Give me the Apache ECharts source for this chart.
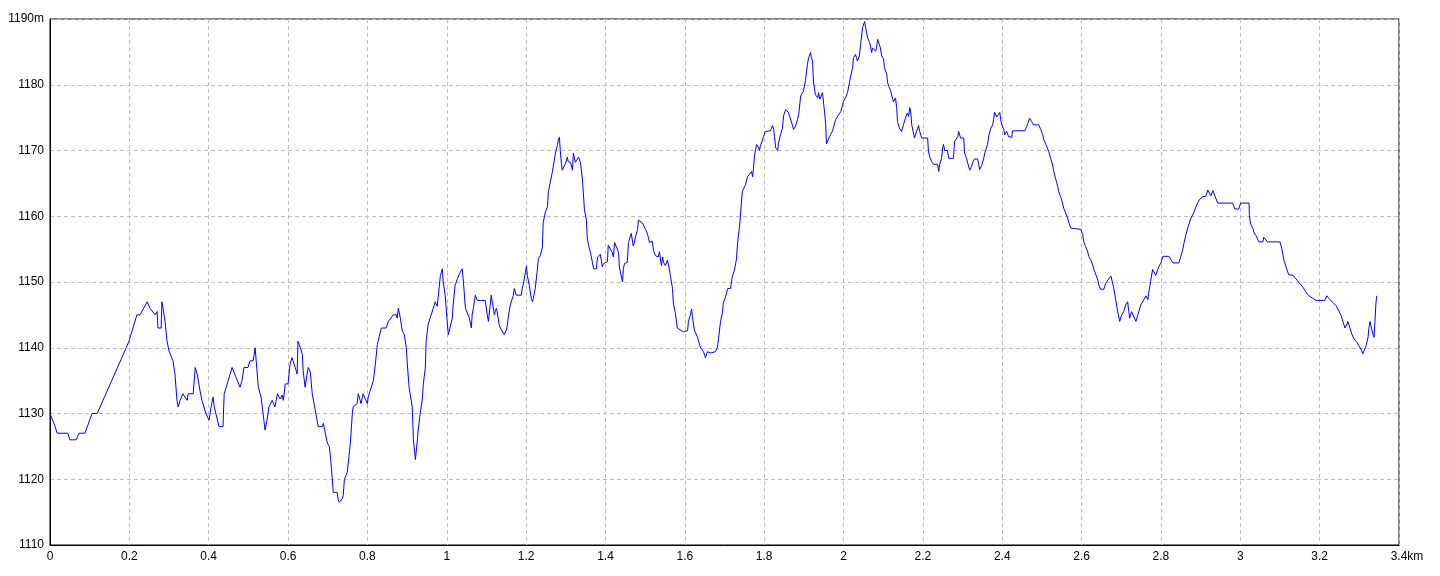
<!DOCTYPE html>
<html>
<head>
<meta charset="utf-8">
<style>html,body{margin:0;padding:0;background:#fff;}#chart{width:1440px;height:576px;}</style>
<script src="https://cdn.jsdelivr.net/npm/echarts@6/dist/echarts.min.js"></script>
</head>
<body>
<div id="chart"></div>
<script>
// distance along route, metres
const distM = [0,5,13,18,45,50,66,73,88,106,119,192,199,219,227,245,252,265,270,272,280,282,285,290,295,300,310,315,320,323,328,333,335,340,346,348,361,366,371,378,383,393,401,406,411,414,419,426,436,439,449,459,462,472,479,484,489,499,504,512,517,522,525,532,537,542,547,552,560,567,573,580,585,588,593,600,605,610,613,618,623,625,631,636,638,643,648,651,656,661,666,673,676,686,689,694,699,704,709,714,724,726,729,736,739,742,749,752,757,762,764,769,774,777,779,784,789,794,800,802,807,815,820,825,827,832,835,847,853,858,865,873,875,878,883,888,893,898,900,905,913,916,921,926,928,933,938,941,946,948,953,958,966,971,976,979,984,989,991,996,1001,1004,1009,1014,1016,1021,1027,1034,1039,1042,1047,1052,1057,1062,1064,1067,1072,1077,1079,1085,1090,1097,1102,1105,1110,1112,1115,1120,1122,1125,1127,1132,1135,1140,1145,1148,1150,1153,1155,1160,1163,1168,1170,1175,1188,1190,1193,1198,1201,1203,1206,1208,1213,1216,1218,1223,1228,1231,1236,1241,1243,1248,1254,1256,1261,1266,1269,1274,1279,1281,1284,1286,1289,1291,1294,1299,1304,1306,1312,1317,1319,1324,1329,1332,1337,1342,1344,1347,1352,1354,1357,1359,1362,1367,1370,1377,1380,1387,1392,1395,1400,1405,1407,1412,1417,1420,1423,1428,1433,1435,1443,1445,1448,1455,1458,1463,1465,1470,1473,1475,1481,1483,1488,1493,1498,1501,1506,1511,1518,1521,1526,1531,1533,1536,1541,1544,1546,1551,1556,1559,1564,1569,1571,1576,1581,1589,1594,1597,1602,1607,1609,1614,1617,1619,1624,1632,1639,1647,1652,1657,1660,1665,1670,1677,1682,1685,1690,1695,1697,1702,1708,1715,1720,1725,1730,1733,1735,1738,1743,1745,1750,1753,1758,1763,1768,1771,1773,1776,1781,1786,1788,1791,1796,1798,1803,1816,1821,1824,1826,1829,1834,1836,1841,1846,1849,1854,1859,1861,1866,1871,1874,1879,1884,1887,1892,1899,1904,1909,1912,1917,1919,1922,1924,1929,1935,1937,1940,1945,1947,1950,1952,1955,1957,1962,1967,1972,1975,1980,1985,1987,1993,1998,2000,2005,2010,2013,2018,2023,2025,2030,2033,2035,2040,2043,2045,2048,2053,2056,2058,2061,2066,2071,2073,2076,2081,2083,2086,2088,2093,2096,2101,2103,2109,2111,2114,2119,2124,2126,2131,2134,2136,2141,2146,2149,2151,2156,2161,2164,2167,2169,2172,2177,2179,2184,2187,2189,2192,2197,2212,2214,2217,2222,2227,2237,2240,2242,2247,2250,2252,2255,2262,2265,2277,2280,2283,2288,2290,2295,2303,2305,2310,2313,2318,2323,2325,2330,2338,2341,2343,2348,2353,2356,2363,2366,2371,2376,2378,2381,2386,2388,2394,2396,2399,2404,2406,2411,2416,2419,2424,2426,2457,2462,2467,2469,2474,2479,2492,2497,2502,2505,2510,2515,2517,2522,2527,2530,2535,2540,2542,2547,2552,2555,2560,2565,2568,2573,2578,2598,2603,2605,2610,2615,2618,2623,2628,2631,2636,2641,2643,2648,2656,2661,2666,2674,2679,2681,2686,2691,2696,2701,2706,2711,2716,2719,2721,2726,2731,2737,2742,2749,2757,2762,2767,2769,2774,2779,2784,2787,2792,2795,2800,2805,2820,2825,2830,2845,2850,2855,2858,2863,2868,2875,2883,2888,2893,2898,2906,2913,2918,2923,2926,2931,2936,2943,2981,2986,2996,3001,3022,3023,3026,3032,3034,3039,3047,3057,3059,3064,3069,3100,3105,3110,3117,3122,3133,3140,3148,3158,3165,3173,3183,3191,3213,3218,3223,3233,3241,3246,3254,3259,3264,3269,3271,3276,3281,3286,3294,3299,3304,3309,3312,3317,3322,3324,3327,3332,3334,3337,3339,3342,3344];
// elevation, metres
const elevM = [1130,1130,1128,1127,1127,1126,1126,1127,1127,1130,1130,1140,1141,1145,1145,1147,1146,1145,1145.5,1143,1143,1147,1146,1144,1141,1139.5,1138,1136,1132,1131,1132,1131.8,1133,1132.5,1132,1133,1133,1137,1136,1133.5,1132,1130,1129,1131,1132.5,1131,1131,1128,1128,1133,1135,1137,1136.8,1135,1134,1135,1137,1137,1138,1138,1140,1139.8,1134,1132.5,1130,1127.5,1129,1131,1132,1131,1133,1132.2,1132.8,1132,1134.5,1134.5,1137.5,1138.5,1138.6,1137,1136,1141,1140,1139,1136.5,1134,1136,1137,1136.3,1133,1133,1129,1128,1128,1128.5,1127,1125.5,1125,1122,1118,1118,1117,1116.5,1117,1117.5,1120,1121,1121,1125.5,1130,1131,1131.3,1131.5,1133,1133,1131.5,1133,1132.3,1131.5,1132.5,1132.5,1135,1137.5,1140.5,1141,1141,1143,1143,1144,1143.8,1145,1145,1144.5,1146,1144.5,1142.5,1142,1140,1138,1134,1131,1126,1123,1126,1127.5,1130,1132,1134.5,1137,1141,1143.5,1144.5,1146,1147,1146.3,1146.2,1151,1152,1150,1148,1144,1142,1142.2,1144.5,1146.5,1149.5,1150.5,1151.5,1152,1150,1146,1146,1144.5,1143,1145,1146,1148,1147.2,1147,1147.2,1147.1,1147.2,1145,1144,1144.2,1148,1147.7,1145,1145.5,1146,1145.5,1143.5,1143,1142.7,1142,1142,1142.7,1143.5,1144.7,1146.5,1146.8,1148,1149,1148,1148,1149,1149.7,1151.4,1152.4,1151,1151.3,1149.5,1147.5,1147,1147.5,1149,1151.7,1153.6,1154,1155.3,1159,1160.5,1161.5,1163.7,1165.2,1166.7,1167,1169.6,1170.8,1171.6,1172,1170,1168,1167,1167,1168,1169,1168.3,1168.2,1167,1169.6,1168.2,1168.2,1169,1168.2,1165.5,1163.7,1161,1159.4,1156.7,1155.7,1156,1154.5,1153,1152,1152,1153.8,1154.2,1152.3,1152.8,1152.6,1153.1,1155.6,1155.8,1154.5,1153.8,1156,1155.8,1154.5,1152.3,1150,1152,1152.8,1153,1156,1157,1157.4,1155.5,1156,1156.7,1158,1159.4,1159.7,1159,1158.8,1158,1157.3,1156,1156.2,1154.8,1154,1154.2,1153.8,1154.6,1152.5,1153.8,1153,1152.5,1153.3,1152.6,1150.8,1149,1146.8,1145.3,1143,1142.7,1142.6,1142.4,1142.7,1142.6,1144,1145,1145.9,1144.8,1142.7,1141.6,1140.1,1139.4,1138.5,1139.4,1139.4,1139.2,1139.4,1139.4,1140,1141.4,1144,1145.4,1146.8,1147.6,1149,1149,1150.9,1151.8,1153.4,1155.9,1157,1158.5,1162.3,1163.8,1164,1164.8,1166,1166,1166.8,1166,1167.3,1169.4,1170.9,1170.4,1170,1170.9,1171.6,1172.1,1172.9,1173,1173.8,1173.2,1172.1,1170.4,1170,1171.1,1172.4,1173.4,1175.3,1176.2,1176.2,1175.8,1175.8,1173.9,1173.2,1173.7,1174.7,1175.5,1178.3,1179,1180.6,1183.1,1184.1,1184.9,1184.1,1183.6,1180.6,1178.5,1178,1178.8,1177.8,1177.5,1178.8,1177,1176,1174,1171,1171.1,1172.4,1172.9,1173.6,1174.7,1175,1175.4,1175.9,1177,1177.5,1178,1178.8,1179.7,1181.3,1182.6,1184.1,1184.6,1184.1,1183.6,1184.4,1186.1,1187.1,1188.7,1189.6,1188.7,1187.9,1187.1,1186.4,1184.9,1185.6,1185.4,1185.1,1185.6,1186.9,1186.6,1185.6,1184.4,1183.9,1182.6,1181.6,1180.3,1179.8,1179,1177.8,1177.4,1178,1176.5,1174.4,1173.4,1172.9,1173,1173.9,1174.9,1175.7,1175.2,1176.5,1176,1173.9,1172.4,1171.9,1172.9,1173.4,1173.8,1172.9,1171.9,1171.9,1169.9,1169.1,1168.3,1167.9,1167.9,1166.8,1167.8,1168.8,1170.4,1170.9,1170,1170,1168.8,1168.8,1171.4,1171.1,1172.1,1172.9,1171.9,1171.9,1169.6,1168.8,1168.1,1167,1167.6,1168.1,1168.7,1168.7,1167.8,1167.1,1167.7,1168.7,1169.6,1170.9,1172.2,1173.4,1173.9,1174.7,1175.8,1175.1,1175.1,1175.8,1174.7,1173.9,1173.2,1172.4,1172.9,1172.1,1172.4,1172,1173,1173,1173.7,1174,1174.9,1174.4,1173.9,1173.9,1173.2,1172.4,1171.6,1170.9,1170.7,1169.9,1168.8,1167.8,1166.8,1165.6,1164.5,1163.8,1163,1162,1161.2,1160.5,1159.7,1159,1158.2,1158,1158,1157.2,1156.2,1155.4,1154.7,1153.9,1153.4,1152.6,1151.9,1151.1,1150.3,1149.6,1148.9,1148.9,1149.8,1150.3,1150.9,1150.9,1149.1,1147.3,1145.5,1144,1145,1145.5,1146.5,1147,1145.5,1144.5,1145.5,1145.3,1144,1145,1146.5,1147.3,1147.9,1147.3,1148.3,1150.1,1151.9,1151.9,1151,1151.9,1152.4,1152.9,1153.9,1153.9,1153.4,1152.9,1152.9,1153.9,1154.9,1155.9,1157.2,1158.3,1159.6,1160.6,1161.4,1162.1,1162.6,1163,1163,1164,1164,1163.1,1163.9,1163.1,1162,1162,1161.1,1161.1,1162,1162,1160.1,1158.8,1158.1,1157.6,1157.1,1156.1,1156.1,1156.8,1156.8,1156.1,1156.1,1155,1153.3,1152,1151.1,1151,1150.5,1149.9,1149.2,1148.5,1147.9,1147.5,1147.2,1147.2,1147.9,1147.5,1146.9,1146.4,1145.9,1144.9,1143.9,1143,1143.6,1144,1143.1,1142.1,1141.4,1140.8,1140.3,1139.8,1139.1,1139.1,1140.3,1141.6,1142.9,1144,1143.8,1142.1,1141.6,1143.6,1146.9,1147.9];

const xMin = 0, xMax = 3400, xStep = 200;
const yMin = 1110, yMax = 1190, yStep = 10;

const data = distM.map((d, i) => [d, elevM[i]]);

const chart = echarts.init(document.getElementById('chart'), null, {renderer: 'canvas'});
const font = "'Liberation Sans', Arial, sans-serif";
chart.setOption({
  animation: false,
  backgroundColor: '#ffffff',
  grid: {left: 50, right: 41, top: 19, bottom: 31, show: true, borderColor: '#000', borderWidth: 1, backgroundColor: 'transparent'},
  xAxis: {
    type: 'value', min: xMin, max: xMax, interval: xStep,
    axisLine: {show: true, lineStyle: {color: '#000', width: 1}},
    axisTick: {show: false},
    splitLine: {show: true, lineStyle: {color: '#bdbdbd', type: [4, 3], width: 1}},
    axisLabel: {
      color: '#000', fontFamily: font, fontSize: 12, margin: 6,
      formatter: v => v === xMax ? '{k|' + (v / 1000) + 'km}' : String(v / 1000),
      rich: {k: {color: '#000', fontFamily: font, fontSize: 12, padding: [0, 0, 0, 16]}}
    }
  },
  yAxis: {
    type: 'value', min: yMin, max: yMax, interval: yStep,
    axisLine: {show: true, lineStyle: {color: '#000', width: 1}},
    axisTick: {show: false},
    splitLine: {show: true, lineStyle: {color: '#bdbdbd', type: [4, 3], width: 1}},
    axisLabel: {
      color: '#000', fontFamily: font, fontSize: 12, margin: 6,
      formatter: v => v === yMax ? v + 'm' : String(v)
    }
  },
  series: [{
    type: 'line', data: data, showSymbol: false, symbol: 'none',
    lineStyle: {color: '#0000ff', width: 1}, smooth: false
  }]
});
</script>
</body>
</html>
